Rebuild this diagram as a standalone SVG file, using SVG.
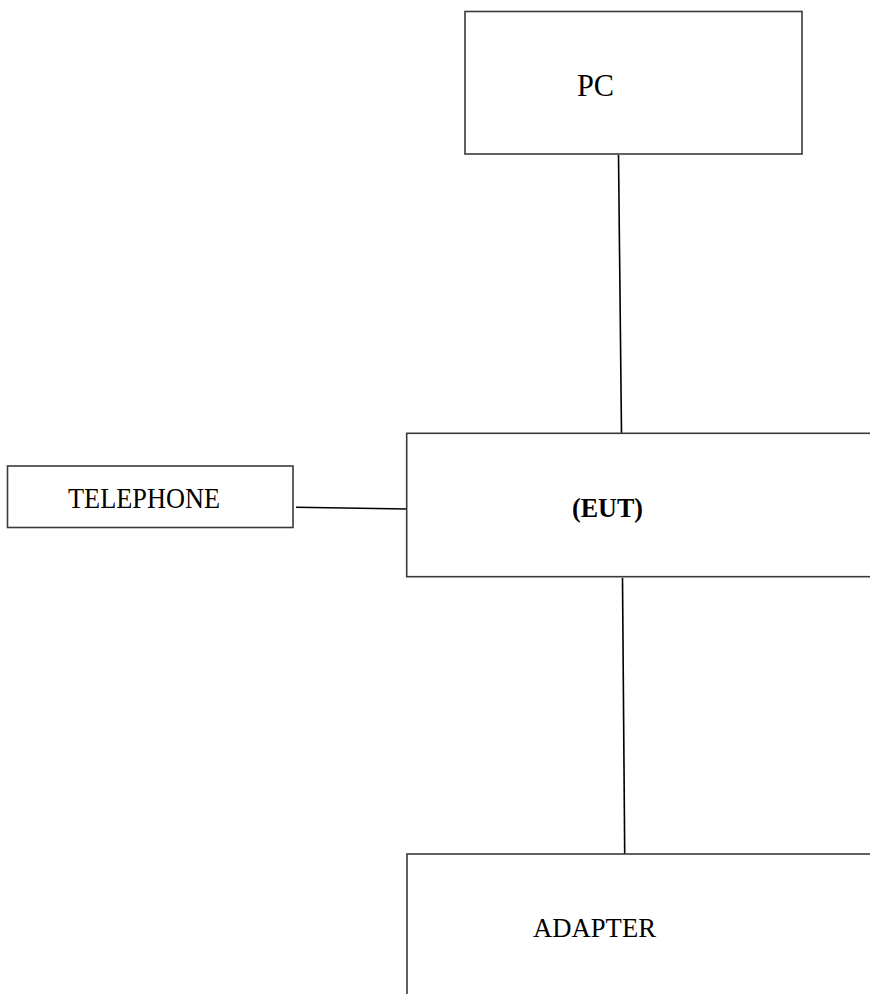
<svg xmlns="http://www.w3.org/2000/svg" width="870" height="994" viewBox="0 0 870 994">
<style>
.box{fill:#fff;stroke:#3a3a3a;stroke-width:1.6}
.ln{stroke:#000;stroke-width:1.6;fill:none}
.t{font-family:"Liberation Serif","Times New Roman",serif;fill:#000}
</style>
<rect width="870" height="994" fill="#fff"/>
<g id="connectors">
<line class="ln" x1="618.5" y1="155" x2="621.5" y2="433"/>
<line class="ln" x1="296" y1="507.3" x2="407" y2="509"/>
<line class="ln" x1="622.5" y1="578" x2="624.7" y2="854"/>
</g>
<g id="pc">
<rect class="box" x="465" y="11.5" width="337" height="142.5"/>
<text class="t" x="577" y="96" font-size="32.5" textLength="37" lengthAdjust="spacingAndGlyphs">PC</text>
</g>
<g id="telephone">
<rect class="box" x="7.5" y="466" width="285.5" height="61.5"/>
<text class="t" x="68" y="507.5" font-size="28.5" textLength="152" lengthAdjust="spacingAndGlyphs">TELEPHONE</text>
</g>
<g id="eut">
<rect class="box" x="406.7" y="433.3" width="480" height="143.4"/>
<text class="t" x="572" y="517" font-size="28" font-weight="bold" textLength="71" lengthAdjust="spacingAndGlyphs">(EUT)</text>
</g>
<g id="adapter">
<rect class="box" x="407" y="854" width="480" height="160"/>
<text class="t" x="533" y="937" font-size="27.5" textLength="123" lengthAdjust="spacingAndGlyphs">ADAPTER</text>
</g>
</svg>
